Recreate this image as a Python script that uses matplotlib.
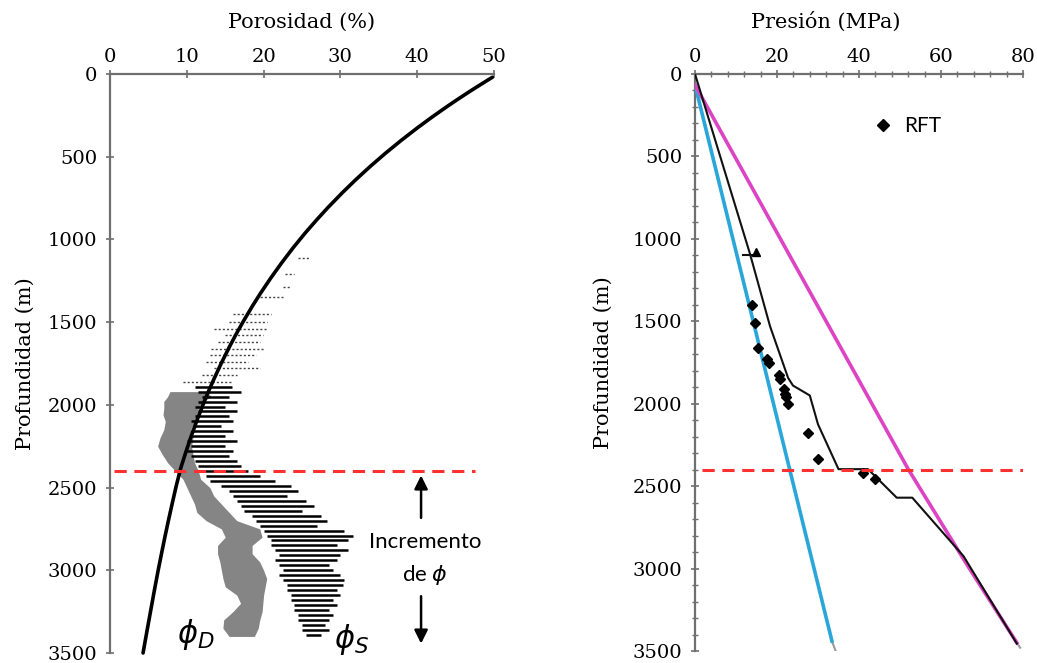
import numpy as np
import matplotlib
matplotlib.use('Agg')
import matplotlib.pyplot as plt

plt.rcParams['font.family'] = ['DejaVu Serif']
plt.rcParams['mathtext.fontset'] = 'dejavusans'

# ---- datos panel izquierdo (porosidad) ----
curva_z = [20, 50, 100, 150, 200, 260, 325, 400, 480, 560, 644, 720, 807, 880, 963, 1050,
           1144, 1230, 1325, 1400, 1487, 1570, 1650, 1750, 1843, 1920, 2000, 2100, 2200,
           2290, 2384, 2490, 2600, 2700, 2800, 2900, 3000, 3120, 3250, 3370, 3500]
curva_phi = [49.78, 48.73, 47.02, 45.37, 43.78, 41.94, 40.04, 37.95, 35.84, 33.85, 31.88,
             30.20, 28.38, 26.94, 25.38, 23.85, 22.31, 20.98, 19.60, 18.58, 17.46, 16.45,
             15.54, 14.47, 13.54, 12.81, 12.10, 11.27, 10.49, 9.84, 9.20, 8.62, 8.08, 7.60,
             7.14, 6.70, 6.27, 5.78, 5.27, 4.80, 4.30]

# phi_D (nube gris): profundidad, borde izquierdo, borde derecho
phid_z = [1920, 1950, 1980, 2020, 2060, 2100, 2150, 2200, 2250, 2300, 2350, 2400, 2450,
          2500, 2550, 2600, 2650, 2700, 2750, 2800, 2850, 2900, 2950, 3000, 3050, 3100,
          3150, 3200, 3250, 3300, 3350, 3400]
phid_izq = [7.8, 7.5, 7.0, 7.0, 6.9, 7.2, 7.0, 6.5, 6.2, 6.8, 7.5, 8.5, 9.5,
            10.0, 10.5, 11.0, 11.3, 12.5, 14.5, 15.0, 14.0, 14.0, 14.3, 14.5, 14.7, 15.0,
            16.5, 17.0, 16.0, 14.8, 14.7, 15.5]
phid_der = [12.5, 13.2, 12.0, 11.5, 11.3, 11.0, 10.5, 10.8, 10.6, 10.8, 11.0, 11.5, 11.8,
            13.0, 13.5, 14.5, 15.5, 16.5, 19.5, 19.8, 18.5, 18.5, 19.5, 20.0, 20.4, 20.2,
            20.0, 19.9, 19.8, 19.5, 19.3, 18.8]

# phi_S (trazos negros) parte superior dispersa
phis_sup_z = [1110, 1210, 1290, 1350, 1450, 1500, 1540, 1580, 1620, 1660, 1700, 1740, 1780, 1820, 1860]
phis_sup_izq = [24.5, 22.8, 22.5, 19.0, 16.0, 15.5, 13.5, 15.0, 14.0, 13.2, 13.0, 12.5, 13.5, 12.0, 9.5]
phis_sup_der = [26.0, 24.0, 23.5, 22.5, 21.0, 20.5, 20.5, 19.9, 19.5, 20.0, 19.0, 18.0, 19.5, 16.5, 15.9]

# phi_S trazos principales
phis_z = [1890, 1920, 1950, 1980, 2010, 2040, 2070, 2100, 2130, 2160, 2190, 2220, 2250, 2280,
          2310, 2340, 2370, 2400, 2430, 2460, 2490, 2520, 2550, 2580, 2610, 2640, 2670, 2700,
          2730, 2760, 2790, 2820, 2850, 2880, 2910, 2940, 2970, 3000, 3030, 3060, 3090, 3120,
          3150, 3180, 3210, 3240, 3270, 3300, 3330, 3360, 3390]
phis_izq = [11.0, 11.5, 12.0, 11.5, 11.0, 11.5, 11.0, 10.5, 11.0, 10.5, 10.5, 10.0, 10.5, 10.0,
            10.5, 11.0, 11.5, 12.0, 12.5, 13.0, 14.5, 15.5, 16.0, 16.5, 17.0, 17.5, 18.5, 19.0,
            19.5, 20.0, 20.5, 21.0, 21.0, 21.5, 22.0, 21.5, 22.0, 22.5, 22.0, 22.5, 23.0, 23.0,
            23.5, 23.5, 24.0, 24.0, 24.5, 24.5, 25.0, 25.0, 25.5]
phis_der = [15.9, 17.0, 15.5, 16.5, 15.0, 16.5, 15.5, 16.0, 14.5, 16.0, 15.0, 16.5, 15.0, 16.0,
            15.5, 16.5, 17.0, 18.0, 19.5, 21.5, 23.5, 24.5, 23.0, 25.5, 26.5, 25.0, 27.5, 28.3,
            27.0, 30.5, 31.6, 31.0, 29.5, 31.0, 30.0, 29.5, 28.5, 29.0, 30.0, 30.5, 30.3, 29.5,
            30.0, 29.0, 29.5, 28.5, 29.0, 28.5, 28.0, 28.5, 27.5]

z_limite = 2400

# ---- datos panel derecho (presion) ----
lito_p = [0, 32.9, 52.0, 66.3, 78.5]
lito_z = [66, 1541, 2397, 2975, 3450]
hidro_p = [0, 33.4]
hidro_z = [66, 3440]
poro_p = [0, 13.4, 18.3, 22.7, 23.9, 28.0, 30.0, 35.0, 42.2, 49.2, 53.0, 65.5, 78.5]
poro_z = [0, 1090, 1530, 1843, 1890, 1950, 2125, 2397, 2397, 2570, 2570, 2925, 3455]
rft_p = [13.9, 14.6, 15.4, 17.5, 18.1, 20.5, 20.8, 21.7, 22.0, 22.2, 22.7, 27.6, 30.0, 41.0, 43.9]
rft_z = [1402, 1511, 1662, 1730, 1752, 1823, 1853, 1913, 1943, 1962, 2003, 2178, 2335, 2420, 2456]

fig = plt.figure(figsize=(10.37, 6.63), dpi=100)
ax1 = fig.add_axes([0.1061, 0.0151, 0.3703, 0.8733])
ax2 = fig.add_axes([0.6702, 0.0181, 0.3163, 0.8703])

gris_eje = '#6f6f6f'
for ax in (ax1, ax2):
    ax.spines['right'].set_visible(False)
    ax.spines['bottom'].set_visible(False)
    ax.spines['left'].set_color(gris_eje)
    ax.spines['top'].set_color(gris_eje)
    ax.spines['left'].set_linewidth(1.6)
    ax.spines['top'].set_linewidth(1.6)
    ax.xaxis.tick_top()
    ax.xaxis.set_label_position('top')
    ax.tick_params(which='both', direction='inout', color=gris_eje, labelsize=14)
    ax.tick_params(which='major', length=6, width=1.2)
    ax.tick_params(which='minor', length=4, width=1.0)
    ax.tick_params(axis='x', pad=3)
    ax.tick_params(axis='y', pad=6)

# panel izquierdo
ax1.fill_betweenx(phid_z, phid_izq, phid_der, color='#858585', lw=0, zorder=2)
ax1.hlines(phis_sup_z, phis_sup_izq, phis_sup_der, color='#444444', lw=1.0, ls=(0, (1.5, 1.5)), zorder=3)
ax1.hlines(phis_z, phis_izq, phis_der, color='black', lw=1.8, zorder=3)
ax1.plot(curva_phi, curva_z, color='black', lw=2.6, zorder=4, clip_on=False,
         solid_joinstyle='round', solid_capstyle='round')
ax1.plot([0.5, 47.5], [z_limite, z_limite], color='#ff3030', lw=2.2, ls=(0, (4, 2.5)), zorder=5)

ax1.set_xlim(0, 50)
ax1.set_ylim(3500, 0)
ax1.set_xticks([0, 10, 20, 30, 40, 50])
ax1.set_yticks([0, 500, 1000, 1500, 2000, 2500, 3000, 3500])
ax1.set_xlabel('Porosidad (%)', fontsize=15)
ax1.xaxis.set_label_coords(0.5, 1.08)
ax1.set_ylabel('Profundidad (m)', fontsize=15)
ax1.yaxis.set_label_coords(-0.195, 0.5)

ax1.annotate('', xy=(40.5, 2410), xytext=(40.5, 2700),
             arrowprops=dict(arrowstyle='-|>', color='black', lw=1.8, mutation_scale=20))
ax1.annotate('', xy=(40.5, 3460), xytext=(40.5, 3140),
             arrowprops=dict(arrowstyle='-|>', color='black', lw=1.8, mutation_scale=20))
ax1.text(41.0, 2830, 'Incremento', family=['Lato', 'DejaVu Sans'], fontsize=16,
         ha='center', va='center')
ax1.text(41.0, 3030, r'de $\phi$', family=['Lato', 'DejaVu Sans'], fontsize=16,
         ha='center', va='center')
ax1.text(11.2, 3390, r'$\phi_D$', fontsize=22, ha='center', va='center')
ax1.text(31.5, 3420, r'$\phi_S$', fontsize=22, ha='center', va='center')

# panel derecho
ax2.plot([33.4, 34.3], [3440, 3500], color='#9a9a9a', lw=1.5, zorder=2)
ax2.plot([78.5, 79.3], [3450, 3480], color='#9a9a9a', lw=1.5, zorder=2)
ax2.plot(hidro_p, hidro_z, color='#2aa6d9', lw=2.6, zorder=3)
ax2.plot(lito_p, lito_z, color='#dd44c4', lw=2.6, zorder=3)
ax2.plot(poro_p, poro_z, color='#111111', lw=1.5, zorder=4)
ax2.plot([11.8, 15.0], [1095, 1095], color='#111111', lw=1.5, zorder=4)
ax2.plot([14.8], [1080], marker='^', color='black', ms=6, zorder=4)
ax2.plot(rft_p, rft_z, 'D', color='black', ms=5, lw=0, label='RFT', zorder=5)
ax2.plot([1.7, 80], [z_limite, z_limite], color='#ff3030', lw=2.2, ls=(0, (4, 2.5)), zorder=6)

ax2.set_xlim(0, 80)
ax2.set_ylim(3500, 0)
ax2.set_xticks([0, 20, 40, 60, 80])
ax2.set_xticks(np.arange(0, 81, 4), minor=True)
ax2.set_yticks([0, 500, 1000, 1500, 2000, 2500, 3000, 3500])
ax2.set_yticks(np.arange(0, 3501, 100), minor=True)
ax2.set_xlabel('Presión (MPa)', fontsize=15)
ax2.xaxis.set_label_coords(0.40, 1.08)
ax2.set_ylabel('Profundidad (m)', fontsize=15)
ax2.yaxis.set_label_coords(-0.25, 0.5)

leg = ax2.legend(loc='center left', bbox_to_anchor=(0.49, 0.91), frameon=False,
                 handlelength=0.8, handletextpad=0.6, markerscale=1.3,
                 prop={'family': ['Lato', 'DejaVu Sans'], 'size': 15})

fig.savefig('out.png', dpi=100)
